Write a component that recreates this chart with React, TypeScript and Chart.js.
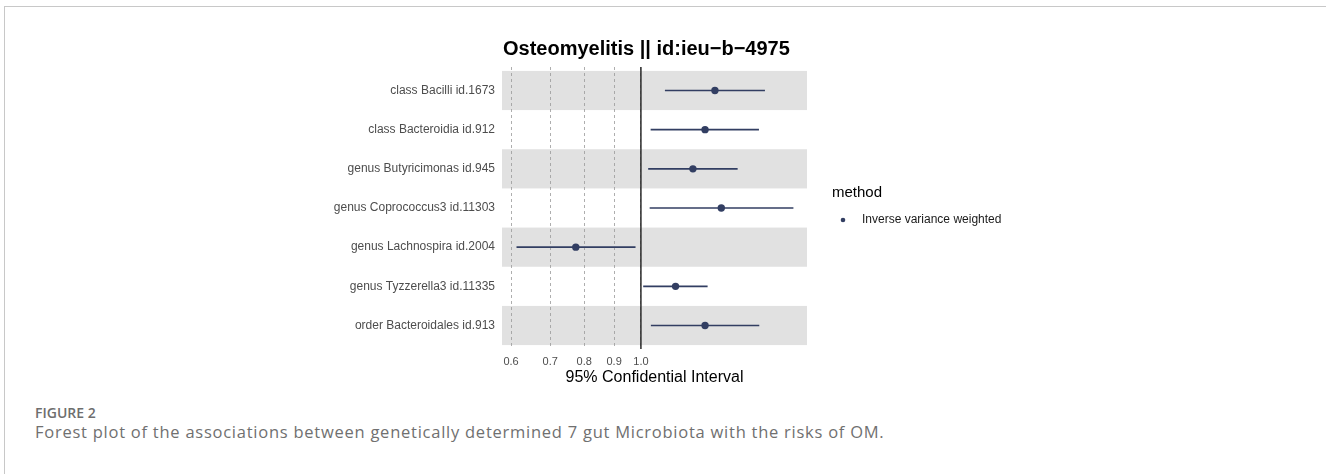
import React, { useEffect, useRef } from "react";
import { Chart, registerables } from "chart.js";

Chart.register(...registerables);

// ---- data ----
const categories = [
  "class Bacilli id.1673",
  "class Bacteroidia id.912",
  "genus Butyricimonas id.945",
  "genus Coprococcus3 id.11303",
  "genus Lachnospira id.2004",
  "genus Tyzzerella3 id.11335",
  "order Bacteroidales id.913",
];
const orValues = [1.338, 1.287, 1.227, 1.372, 0.774, 1.146, 1.287];
const lowerCI = [1.099, 1.039, 1.029, 1.035, 0.613, 1.009, 1.04];
const upperCI = [1.629, 1.591, 1.463, 1.822, 0.979, 1.3, 1.593];
const xTicks = [0.6, 0.7, 0.8, 0.9, 1.0];
const xTickLabels = ["0.6", "0.7", "0.8", "0.9", "1.0"];
const referenceValue = 1.0;
const shadedRows = [1, 3, 5, 7];
const chartTitle = "Osteomyelitis || id:ieu\u2212b\u22124975";
const xAxisTitle = "95% Confidential Interval";
const legendTitle = "method";
const legendLabel = "Inverse variance weighted";

const NAVY = "#323e62";
const FONT = "'Liberation Sans', Arial, Helvetica, sans-serif";

export default function App() {
  const canvasRef = useRef<HTMLCanvasElement | null>(null);

  useEffect(() => {
    const canvas = canvasRef.current;
    if (!canvas) return;

    const ciDatasets = categories.map((c, i) => ({
      type: "scatter" as const,
      label: c,
      data: [
        { x: lowerCI[i], y: i + 1 },
        { x: upperCI[i], y: i + 1 },
      ],
      showLine: true,
      borderColor: NAVY,
      borderWidth: 1.7,
      pointRadius: 0,
      order: 2,
    }));

    const bandsPlugin = {
      id: "bands",
      beforeDraw(chart: any) {
        const { ctx, chartArea, scales } = chart;
        ctx.save();
        ctx.fillStyle = "#e1e1e1";
        shadedRows.forEach((r) => {
          const y1 = scales.y.getPixelForValue(r - 0.5);
          const y2 = scales.y.getPixelForValue(r + 0.5);
          ctx.fillRect(chartArea.left, Math.min(y1, y2), chartArea.right - chartArea.left, Math.abs(y2 - y1));
        });
        ctx.restore();
      },
    };

    const annotPlugin = {
      id: "annot",
      afterDraw(chart: any) {
        const { ctx, chartArea } = chart;
        ctx.save();
        // title
        ctx.fillStyle = "#000";
        ctx.font = `bold 20px ${FONT}`;
        ctx.textAlign = "left";
        ctx.textBaseline = "alphabetic";
        ctx.fillText(chartTitle, chartArea.left + 1, 55);
        // legend
        const lx = chartArea.right + 25;
        ctx.font = `15px ${FONT}`;
        ctx.fillStyle = "#000";
        ctx.textBaseline = "middle";
        ctx.fillText(legendTitle, lx, 193);
        ctx.fillStyle = NAVY;
        ctx.beginPath();
        ctx.arc(lx + 11, 220, 2.3, 0, Math.PI * 2);
        ctx.fill();
        ctx.fillStyle = "#1a1a1a";
        ctx.font = `12px ${FONT}`;
        ctx.fillText(legendLabel, lx + 30, 220);
        ctx.restore();
      },
    };

    const chart = new Chart(canvas, {
      type: "scatter",
      data: {
        datasets: [
          ...ciDatasets,
          {
            type: "scatter" as const,
            label: "reference",
            data: [
              { x: referenceValue, y: 0.4 },
              { x: referenceValue, y: 7.6 },
            ],
            showLine: true,
            borderColor: "#2b2b2b",
            borderWidth: 1.5,
            pointRadius: 0,
            order: 3,
          },
          {
            type: "scatter" as const,
            label: legendLabel,
            data: orValues.map((v, i) => ({ x: v, y: i + 1 })),
            pointRadius: 3.7,
            pointBackgroundColor: NAVY,
            pointBorderWidth: 0,
            order: 1,
          },
        ] as any,
      },
      options: {
        responsive: false,
        animation: false,
        layout: { padding: { left: 302, right: 519, top: 67, bottom: 1 } },
        plugins: {
          legend: { display: false },
          tooltip: { enabled: false },
          title: { display: false },
        },
        scales: {
          x: {
            type: "logarithmic",
            min: 0.579,
            max: 1.922,
            afterBuildTicks: (s: any) => {
              s.ticks = xTicks.map((v) => ({ value: v }));
            },
            afterFit: (s: any) => {
              s.height = 45;
            },
            ticks: {
              autoSkip: false,
              maxRotation: 0,
              color: "#4d4d4d",
              font: { family: FONT, size: 11 },
              padding: 6,
              callback: (_v: any, i: number) => xTickLabels[i],
            },
            grid: {
              color: "#9a9a9a",
              lineWidth: 0.8,
              drawTicks: false,
            },
            border: { display: false, dash: [3, 3] },
            title: {
              display: true,
              text: xAxisTitle,
              color: "#000",
              font: { family: FONT, size: 16 },
              padding: { top: 0, bottom: 6.4 },
            },
          },
          y: {
            type: "linear",
            min: 0.4,
            max: 7.6,
            reverse: true,
            afterBuildTicks: (s: any) => {
              s.ticks = categories.map((_, i) => ({ value: i + 1 }));
            },
            afterFit: (s: any) => {
              s.width = 200;
            },
            ticks: {
              autoSkip: false,
              color: "#4d4d4d",
              font: { family: FONT, size: 12 },
              padding: 7,
              callback: (v: any) => categories[Math.round(Number(v)) - 1],
            },
            grid: { display: false, drawTicks: false },
            border: { display: false },
          },
        },
      } as any,
      plugins: [bandsPlugin, annotPlugin],
    });

    return () => chart.destroy();
  }, []);

  return (
    <div
      style={{
        position: "absolute",
        left: 0,
        top: 0,
        width: 1326,
        height: 474,
        background: "#fff",
        overflow: "hidden",
      }}
    >
      <div
        style={{
          position: "absolute",
          left: 4,
          top: 6,
          width: 1322,
          height: 468,
          borderTop: "1px solid #c8c8c8",
          borderLeft: "1px solid #c8c8c8",
          boxSizing: "border-box",
        }}
      />
      <canvas
        ref={canvasRef}
        width={1326}
        height={395}
        style={{ position: "absolute", left: 0, top: 0, width: 1326, height: 395 }}
      />
      <div
        style={{
          position: "absolute",
          left: 35,
          top: 405.6,
          fontFamily: "'Open Sans', sans-serif",
          fontWeight: 600,
          fontSize: 14,
          lineHeight: "14px",
          color: "#6e6e6e",
          whiteSpace: "nowrap",
        }}
      >
        FIGURE 2
      </div>
      <div
        style={{
          position: "absolute",
          left: 35,
          top: 424.4,
          fontFamily: "'Open Sans', sans-serif",
          fontWeight: 400,
          fontSize: 16.5,
          letterSpacing: "0.75px",
          lineHeight: "16.5px",
          color: "#707070",
          whiteSpace: "nowrap",
        }}
      >
        Forest plot of the associations between genetically determined 7 gut Microbiota with the risks of OM.
      </div>
    </div>
  );
}
